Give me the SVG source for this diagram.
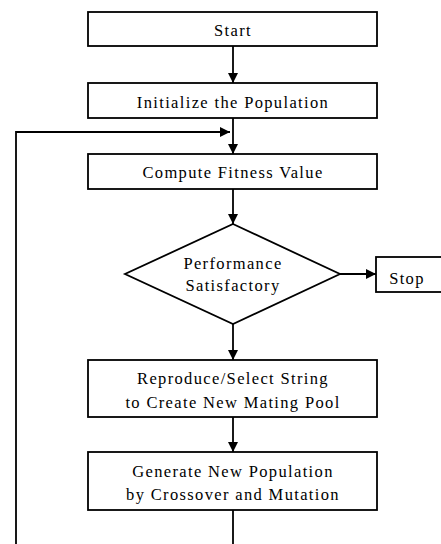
<svg xmlns="http://www.w3.org/2000/svg" width="441" height="544" viewBox="0 0 441 544">
<style>
.box{fill:#fff;stroke:#000;stroke-width:1.8}
.t{font-family:"Liberation Serif",serif;font-size:16.5px;letter-spacing:1.35px;text-anchor:middle;fill:#000}
.c{fill:none;stroke:#000;stroke-width:1.8}
</style>
<defs>
<marker id="ah" markerWidth="10" markerHeight="10" refX="10" refY="5" orient="auto" markerUnits="userSpaceOnUse">
<path d="M0,0 L10,5 L0,10 Z" fill="#000"/>
</marker>
</defs>
<rect width="441" height="544" fill="#fff"/>
<g id="connectors">
<path class="c" d="M233,46 V83" marker-end="url(#ah)"/>
<path class="c" d="M233,118 V154" marker-end="url(#ah)"/>
<path class="c" d="M16,544 V132 H230" marker-end="url(#ah)"/>
<path class="c" d="M233,189 V224" marker-end="url(#ah)"/>
<path class="c" d="M340,274 H376" marker-end="url(#ah)"/>
<path class="c" d="M233,324 V360" marker-end="url(#ah)"/>
<path class="c" d="M233,417 V452" marker-end="url(#ah)"/>
<path class="c" d="M233,510 V544"/>
</g>
<g id="start"><rect class="box" x="88" y="12" width="289" height="34"/><text class="t" x="233" y="36">Start</text></g>
<g id="init"><rect class="box" x="88" y="83" width="289" height="35"/><text class="t" x="233" y="108">Initialize the Population</text></g>
<g id="fitness"><rect class="box" x="88" y="154" width="289" height="35"/><text class="t" x="233" y="178">Compute Fitness Value</text></g>
<g id="decision"><polygon class="box" points="233,224 340,274 233,324 125,274"/><text class="t" x="233" y="269">Performance</text><text class="t" x="233" y="291">Satisfactory</text></g>
<g id="stop"><rect class="box" x="376" y="257" width="70" height="35"/><text class="t" x="407" y="284">Stop</text></g>
<g id="reproduce"><rect class="box" x="88" y="360" width="289" height="57"/><text class="t" x="233" y="384">Reproduce/Select String</text><text class="t" x="233" y="408">to Create New Mating Pool</text></g>
<g id="generate"><rect class="box" x="88" y="452" width="289" height="58"/><text class="t" x="233" y="477">Generate New Population</text><text class="t" x="233" y="500">by Crossover and Mutation</text></g>
</svg>
